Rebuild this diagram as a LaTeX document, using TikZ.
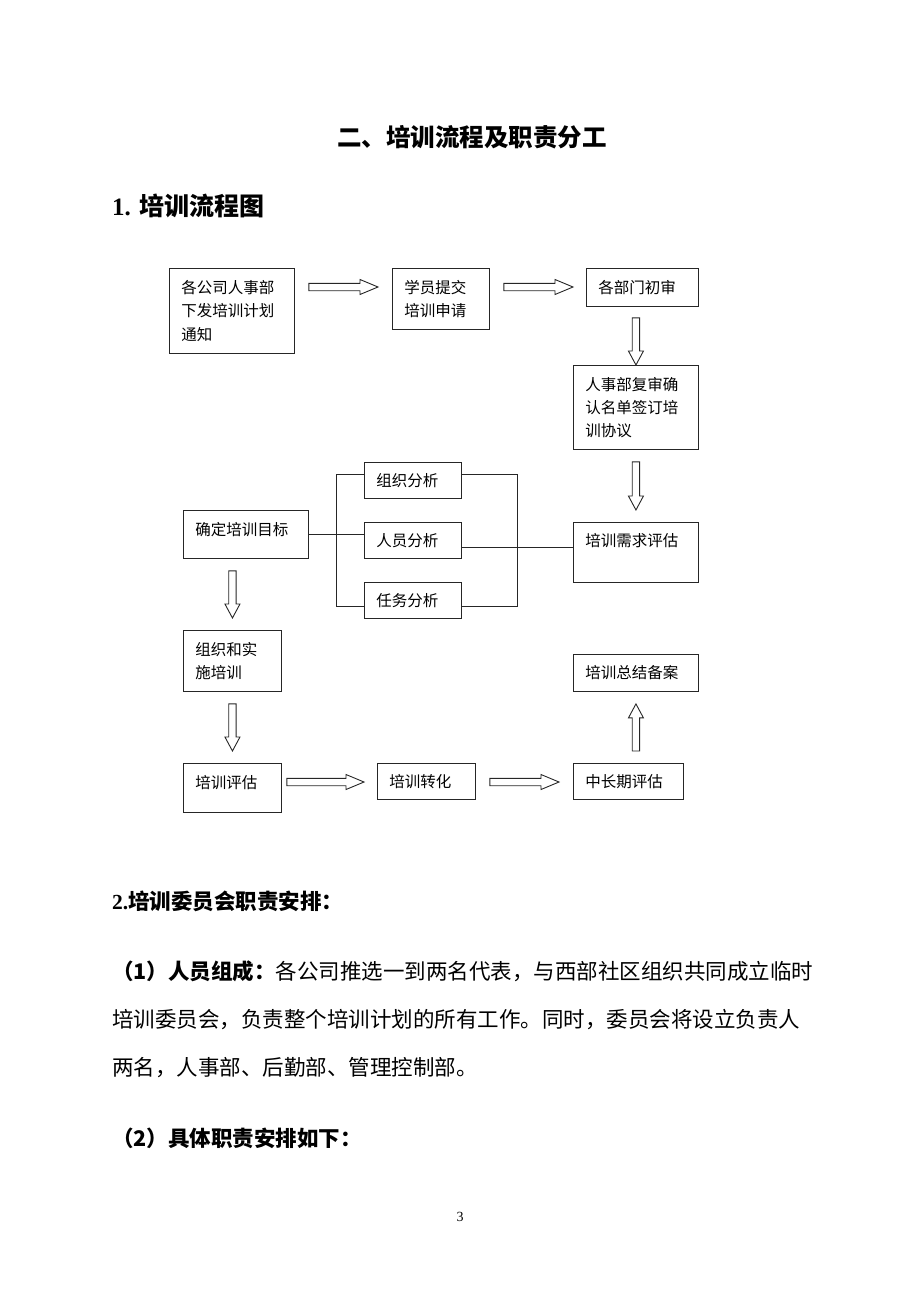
\documentclass[tikz,border=0pt]{standalone}
\usepackage{fontspec}
\setmainfont{Liberation Serif}
\newfontfamily\cjk{Noto Sans CJK SC}
\usetikzlibrary{calc}
\XeTeXlinebreaklocale "zh"
\XeTeXlinebreakskip=0pt plus 3pt minus 1pt
\tikzset{
	box/.style={draw=black!85,line width=0.9pt,anchor=north west,inner xsep=12pt,inner ysep=0pt,align=left,font=\cjk\fontsize{15.5}{23.3}\selectfont},
	hollow/.style={draw=black!85,line width=0.9pt,fill=white},
	link/.style={draw=black!85,line width=0.9pt},
	line/.style={anchor=west,inner sep=0pt,font=\cjk\fontsize{21.5}{26}\selectfont}
}
\newcommand\blockarrow[3][14pt]{%
	\coordinate (ba1) at #2;
	\coordinate (ba2) at #3;
	\coordinate (bah) at ($(ba2)!#1!(ba1)$);
	\draw[hollow] ($(ba1)!3.7pt!90:(ba2)$) -- ($(bah)!3.7pt!-90:(ba1)$) -- ($(bah)!7.5pt!-90:(ba1)$) -- (ba2) -- ($(bah)!7.5pt!90:(ba1)$) -- ($(bah)!3.7pt!90:(ba1)$) -- ($(ba1)!3.7pt!-90:(ba2)$) -- cycle;
}
\begin{document}
\begin{tikzpicture}[x=1pt,y=-1pt]
	\useasboundingbox (0,0) rectangle (920,1302);
	\node[font=\cjk\bfseries\fontsize{24.5}{30}\selectfont,name=title] at (472,137) {二、培训流程及职责分工};
	\node[anchor=west,inner sep=0pt,font=\bfseries\fontsize{25}{30}\selectfont,name=head1] at (112,206) {1. {\cjk 培训流程图}};
	\node[box,text width=101pt,minimum height=85pt,name=notice] at (169,268) {各公司人事部\\下发培训计划\\通知};
	\node[box,text width=73pt,minimum height=61pt,name=apply] at (392,268) {学员提交\\培训申请};
	\node[box,text width=88pt,minimum height=38pt,name=check] at (586,268) {各部门初审};
	\node[box,text width=101pt,minimum height=84pt,name=review] at (573,365) {人事部复审确\\认名单签订培\\训协议};
	\node[box,text width=101pt,text height=24pt,text depth=36pt,name=needs] at (573,522) {培训需求评估};
	\node[box,text width=101pt,text height=25pt,text depth=23pt,name=goal] at (183,510) {确定培训目标};
	\foreach \y/\n/\lab in {462/org/组织分析,522/staff/人员分析,582/task/任务分析}{
		\node[box,text width=73pt,minimum height=36pt,name=\n] at (364,\y) {\lab};
	}
	\node[box,text width=74pt,minimum height=61pt,name=run] at (183,630) {组织和实\\施培训};
	\node[box,text width=74pt,text height=25.5pt,text depth=23.5pt,name=evalu] at (183,763) {培训评估};
	\node[box,text width=74pt,minimum height=36pt,name=transfer] at (377,763) {培训转化};
	\node[box,text width=86pt,minimum height=36pt,name=longterm] at (573,763) {中长期评估};
	\node[box,text width=101pt,minimum height=37pt,name=summary] at (573,654) {培训总结备案};
	\draw[link] (goal.east) -- (goal.east -| staff.west);
	\coordinate (lj) at ($(goal.east)!0.5!(goal.east -| staff.west)$);
	\draw[link] ($(org.west)+(0,-6)$) -| (lj) |- ($(task.west)+(0,6)$);
	\coordinate (rj) at ($(org.east)!0.5!(org.east -| needs.west)$);
	\draw[link] ($(org.east)+(0,-6)$) -| (rj) |- ($(task.east)+(0,6)$);
	\draw[link] ($(staff.east)+(0,6.5)$) -- ($(staff.east -| needs.west)+(0,6.5)$);
	\blockarrow[18pt]{($(notice.north east)+(14,19)$)}{($(apply.north west)+(-14,19)$)}
	\blockarrow[18pt]{($(apply.north east)+(14,19)$)}{($(check.north west)+(-13,19)$)}
	\blockarrow{($(check.south -| review.north)+(0,11)$)}{(review.north)}
	\blockarrow{($(review.south)+(0,12)$)}{($(needs.north)+(0,-12)$)}
	\blockarrow{($(goal.south -| run.north)+(0,12)$)}{($(run.north)+(0,-12)$)}
	\blockarrow{($(run.south)+(0,12)$)}{($(evalu.north)+(0,-12)$)}
	\blockarrow[18pt]{($(evalu.north east)+(5,19)$)}{($(transfer.north west)+(-13,19)$)}
	\blockarrow[18pt]{($(transfer.north east)+(14,19)$)}{($(longterm.north west)+(-14,19)$)}
	\blockarrow{($(longterm.north -| summary.south)+(0,-12)$)}{($(summary.south)+(0,12)$)}
	\node[line,font=\cjk\bfseries\fontsize{21.5}{26}\selectfont,name=sec2] at (112,901) {{\rmfamily 2.}培训委员会职责安排：};
	\node[line,name=par1] at (112,971) {\makebox[696pt][s]{\textbf{（1）人员组成：}各公司推选一到两名代表，与西部社区组织共同成立临时}};
	\node[line,name=par2] at (112,1020) {\makebox[696pt][s]{培训委员会，负责整个培训计划的所有工作。同时，委员会将设立负责人}};
	\node[line,name=par3] at (112,1068) {两名，人事部、后勤部、管理控制部。};
	\node[line,name=sub2] at (112,1138) {\textbf{（2）具体职责安排如下：}};
	\node[font=\fontsize{14}{16}\selectfont,name=pagenum] at (460,1217) {3};
\end{tikzpicture}
\end{document}
